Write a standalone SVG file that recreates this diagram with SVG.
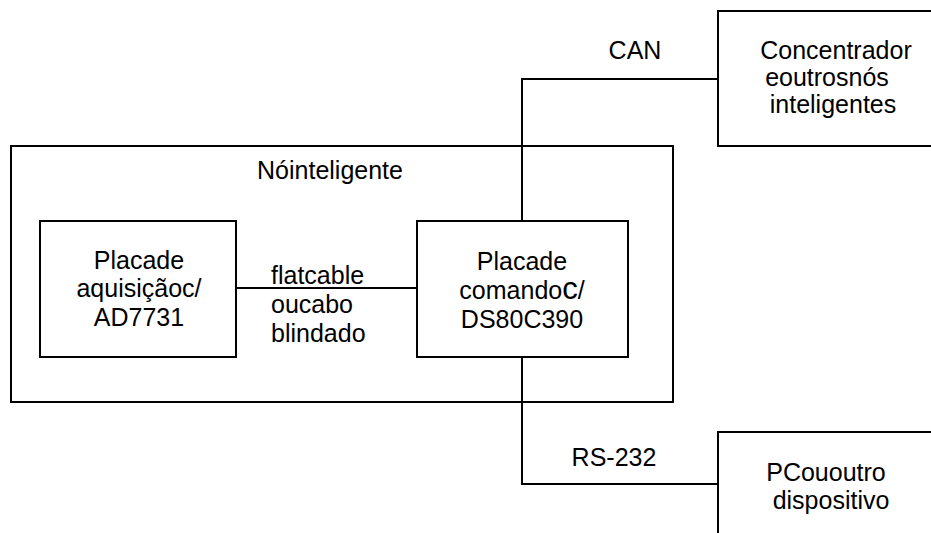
<svg xmlns="http://www.w3.org/2000/svg" width="931" height="533" viewBox="0 0 931 533">
<style>
.box{fill:none;stroke:#000;stroke-width:2}
.ln{fill:none;stroke:#000;stroke-width:2}
text{font-family:"Liberation Sans",Arial,sans-serif;font-size:25px;fill:#000}
.c{text-anchor:middle}
</style>
<rect width="931" height="533" fill="#fff"/>
<g id="connectors">
<polyline class="ln" points="522,221 522,79 718,79"/>
<polyline class="ln" points="522,357 522,484 718,484"/>
<line class="ln" x1="236" y1="288" x2="417" y2="288"/>
</g>
<g id="no-inteligente">
<rect class="box" x="11" y="146" width="662" height="256"/>
<text class="c" x="330" y="179">Nóinteligente</text>
</g>
<g id="placa-aquisicao">
<rect class="box" x="40" y="221" width="196" height="136"/>
<text class="c" x="139" y="269">Placade</text>
<text class="c" x="139" y="297">aquisiçãoc/</text>
<text class="c" x="139" y="326">AD7731</text>
</g>
<g id="placa-comando">
<rect class="box" x="417" y="221" width="211" height="136"/>
<text class="c" x="522" y="270">Placade</text>
<text class="c" x="522" y="299">comando<tspan style="font-size:31px">c</tspan>/</text>
<text class="c" x="522" y="328">DS80C390</text>
</g>
<g id="concentrador">
<rect class="box" x="718" y="11" width="220" height="135"/>
<text class="c" x="836" y="59">Concentrador</text>
<text class="c" x="827" y="86">eoutrosnós</text>
<text class="c" x="833" y="113">inteligentes</text>
</g>
<g id="pc">
<rect class="box" x="718" y="432" width="220" height="110"/>
<text class="c" x="826" y="481">PCououtro</text>
<text class="c" x="831" y="509">dispositivo</text>
</g>
<g id="labels">
<text class="c" x="635" y="59">CAN</text>
<text x="271" y="284">flatcable</text>
<text x="271" y="313">oucabo</text>
<text x="271" y="342">blindado</text>
<text class="c" x="614" y="466">RS-232</text>
</g>
</svg>
